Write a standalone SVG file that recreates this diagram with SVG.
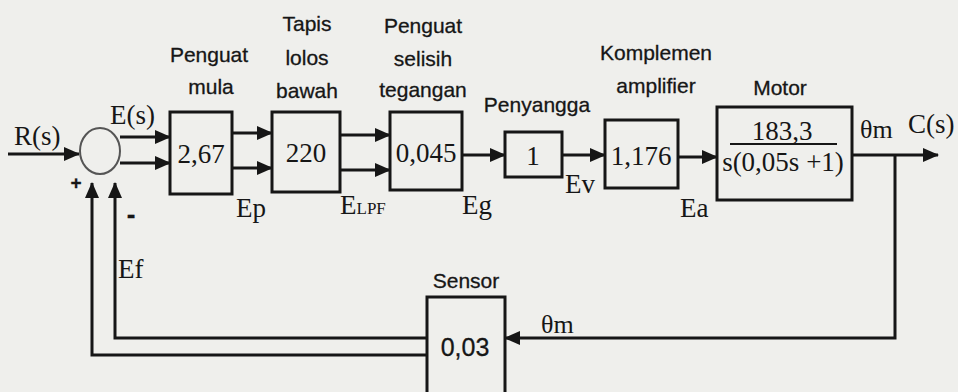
<svg xmlns="http://www.w3.org/2000/svg" width="958" height="392" viewBox="0 0 958 392">
<style>
.bg{fill:#efefec}
.box{fill:none;stroke:#161616;stroke-width:3}
.ln{fill:none;stroke:#161616;stroke-width:3}
.s{font-family:"Liberation Sans",Arial,sans-serif;font-size:21px;fill:#161616;stroke:#161616;stroke-width:0.3}
.m{font-family:"Liberation Serif","Times New Roman",serif;font-size:27px;fill:#161616}
.c{text-anchor:middle}
</style>
<defs>
<marker id="ah" markerUnits="userSpaceOnUse" markerWidth="16" markerHeight="16" viewBox="0 0 16 16" refX="15" refY="8" orient="auto">
<path d="M0,1 L16,8 L0,15 Z" fill="#161616"/>
</marker>
</defs>
<rect class="bg" x="0" y="0" width="958" height="392"/>

<g id="connectors">
<path class="ln" d="M8,154 L79,154" marker-end="url(#ah)"/>
<path class="ln" d="M120,137 L170,137" marker-end="url(#ah)"/>
<path class="ln" d="M120,163 L170,163" marker-end="url(#ah)"/>
<path class="ln" d="M232,133 L272,133" marker-end="url(#ah)"/>
<path class="ln" d="M232,168 L272,168" marker-end="url(#ah)"/>
<path class="ln" d="M340,135 L390,135" marker-end="url(#ah)"/>
<path class="ln" d="M340,170 L390,170" marker-end="url(#ah)"/>
<path class="ln" d="M462,155 L505,155" marker-end="url(#ah)"/>
<path class="ln" d="M562,155 L605,155" marker-end="url(#ah)"/>
<path class="ln" d="M678,157 L717,157" marker-end="url(#ah)"/>
<path class="ln" d="M852,155 L938,155" marker-end="url(#ah)"/>
<path class="ln" d="M895,155 L895,338 L505,338" marker-end="url(#ah)"/>
<path class="ln" d="M427,338 L115,338 L115,183" marker-end="url(#ah)"/>
<path class="ln" d="M427,355 L92,355 L92,183" marker-end="url(#ah)"/>
</g>

<g id="sum">
<ellipse cx="100" cy="151" rx="20" ry="23" fill="none" stroke="#555" stroke-width="2"/>
<text class="s c" x="76" y="189" style="font-size:19px;font-weight:bold">+</text>
<text class="s c" x="131" y="223" style="font-size:26px;font-weight:bold">-</text>
</g>

<g id="labels">
<text class="m" x="14" y="145">R(s)</text>
<text class="m" x="110" y="124">E(s)</text>
<text class="m" x="236" y="217">Ep</text>
<text class="m" x="340" y="214">E<tspan style="font-size:17px">LPF</tspan></text>
<text class="m" x="462" y="214">Eg</text>
<text class="m" x="565" y="193">Ev</text>
<text class="m" x="680" y="217">Ea</text>
<text class="m" x="118" y="278">Ef</text>
<text class="m" x="860" y="138" style="font-size:26px">θm</text>
<text class="m" x="908" y="133">C(s)</text>
<text class="m" x="541" y="333" style="font-size:26px">θm</text>
</g>

<g id="penguat-mula">
<rect class="box" x="170" y="112" width="62" height="82"/>
<text class="m c" x="201" y="163">2,67</text>
<text class="s c" x="209" y="62">Penguat</text>
<text class="s c" x="211" y="94">mula</text>
</g>

<g id="tapis">
<rect class="box" x="272" y="112" width="68" height="80"/>
<text class="m c" x="306" y="162">220</text>
<text class="s c" x="307" y="31">Tapis</text>
<text class="s c" x="307" y="65">lolos</text>
<text class="s c" x="307" y="98">bawah</text>
</g>

<g id="penguat-selisih">
<rect class="box" x="390" y="112" width="72" height="78"/>
<text class="m c" x="426" y="162">0,045</text>
<text class="s c" x="423" y="33">Penguat</text>
<text class="s c" x="423" y="66">selisih</text>
<text class="s c" x="423" y="97">tegangan</text>
</g>

<g id="penyangga">
<rect class="box" x="505" y="132" width="57" height="45"/>
<text class="m c" x="533" y="165">1</text>
<text class="s c" x="537" y="112">Penyangga</text>
</g>

<g id="komplemen">
<rect class="box" x="605" y="120" width="73" height="68"/>
<text class="m c" x="641" y="165">1,176</text>
<text class="s c" x="656" y="60">Komplemen</text>
<text class="s c" x="656" y="93">amplifier</text>
</g>

<g id="motor">
<rect class="box" x="717" y="107" width="135" height="93"/>
<text class="m c" x="782" y="140">183,3</text>
<line x1="730" y1="144" x2="837" y2="144" stroke="#161616" stroke-width="2"/>
<text class="m c" x="783" y="171">s(0,05s +1)</text>
<text class="s c" x="780" y="95">Motor</text>
</g>

<g id="sensor">
<rect class="box" x="427" y="297" width="78" height="100"/>
<text class="s c" x="465" y="356" style="font-size:25px">0,03</text>
<text class="s c" x="466" y="288">Sensor</text>
</g>
</svg>
